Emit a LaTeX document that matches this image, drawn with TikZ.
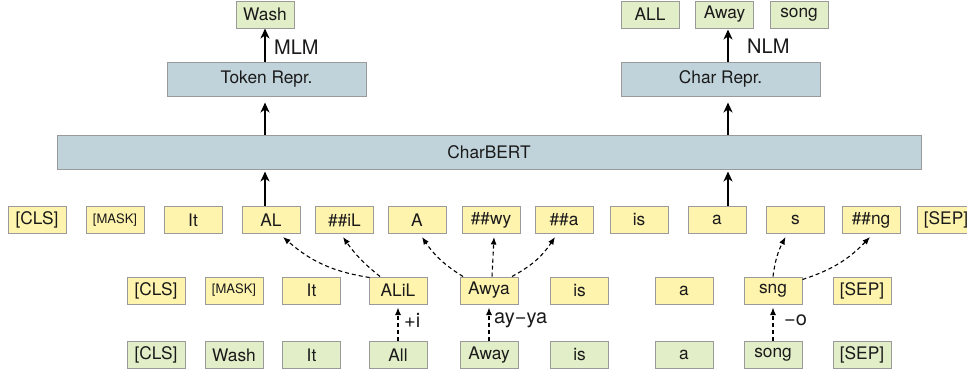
\documentclass[tikz,border=0pt]{standalone}
\usepackage{fontspec}
\setmainfont{TeX Gyre Heros}
\usetikzlibrary{arrows.meta}
\definecolor{yel}{HTML}{FFF4AE}
\definecolor{grn}{HTML}{E2EEC8}
\definecolor{blu}{HTML}{C1D3DA}
\definecolor{bord}{HTML}{9A9A9A}
\definecolor{txt}{HTML}{1A1A1A}
\tikzset{
  tok/.style={draw=bord, line width=1pt, minimum width=58pt, minimum height=27pt, inner sep=0pt, text=txt, font=\fontsize{17.3}{19}\selectfont},
  ytok/.style={tok, fill=yel},
  gtok/.style={tok, fill=grn},
  btok/.style={tok, fill=blu, minimum height=34pt},
  smallt/.style={font=\fontsize{13}{14}\selectfont},
  lab/.style={text=txt, font=\fontsize{20}{22}\selectfont, inner sep=0pt},
  solidarr/.style={-{Stealth[length=10pt,width=9pt,inset=3pt]}, line width=2pt, black},
  dasharr/.style={-{Latex[length=7.5pt,width=6pt]}, line width=1.1pt, black, dash pattern=on 4pt off 3pt}
}
\begin{document}
\begin{tikzpicture}[x=1pt,y=1pt]
\useasboundingbox (0,0) rectangle (967,-376);
% top row
\node[gtok] (wash) at (265,-14.5) {Wash};
\node[gtok] (ALL) at (650,-14.5) {ALL};
\node[gtok] (away0) at (724.5,-14.5) {Away};
\node[gtok] (song0) at (799,-14.5) {song};
% repr
\node[btok, minimum width=199pt] (tokr) at (266.5,-79) {Token Repr.};
\node[btok, minimum width=199pt] (charr) at (720.5,-79) {Char Repr.};
\node[btok, minimum width=864pt] (bert) at (489,-152) {CharBERT};
% row 1
\node[ytok] (r1cls) at (37,-220) {[CLS]};
\node[ytok, smallt] (r1mask) at (115,-220) {[MASK]};
\node[ytok] (r1it) at (193,-220) {It};
\node[ytok] (r1AL) at (271,-220) {AL};
\node[ytok] (r1iL) at (344.5,-220) {\#\#iL};
\node[ytok] (r1A) at (417,-220) {A};
\node[ytok] (r1wy) at (491,-220) {\#\#wy};
\node[ytok] (r1a2) at (564,-220) {\#\#a};
\node[ytok] (r1is) at (639,-220) {is};
\node[ytok] (r1a) at (717,-220) {a};
\node[ytok] (r1s) at (795.5,-220) {s};
\node[ytok] (r1ng) at (871,-220) {\#\#ng};
\node[ytok] (r1sep) at (946,-220) {[SEP]};
% row 2
\node[ytok] (r2cls) at (156,-290.5) {[CLS]};
\node[ytok, smallt] (r2mask) at (234,-290.5) {[MASK]};
\node[ytok] (r2it) at (311.5,-290.5) {It};
\node[ytok] (r2alil) at (398,-290.5) {ALiL};
\node[ytok] (r2awya) at (489,-290.5) {Awya};
\node[ytok] (r2is) at (579.5,-290.5) {is};
\node[ytok] (r2a) at (684,-290.5) {a};
\node[ytok] (r2sng) at (773,-290.5) {sng};
\node[ytok] (r2sep) at (862,-290.5) {[SEP]};
% row 3
\node[gtok] (r3cls) at (156,-355) {[CLS]};
\node[gtok] (r3wash) at (234,-355) {Wash};
\node[gtok] (r3it) at (311.5,-355) {It};
\node[gtok] (r3all) at (398,-355) {All};
\node[gtok] (r3away) at (489,-355) {Away};
\node[gtok] (r3is) at (579.5,-355) {is};
\node[gtok] (r3a) at (684,-355) {a};
\node[gtok] (r3song) at (773,-355) {song};
\node[gtok] (r3sep) at (862,-355) {[SEP]};
% x positions of the solid arrows
\coordinate (xl) at (265,0);
\coordinate (xr) at (728,0);
% solid arrows
\draw[solidarr] (tokr.north -| xl) -- (wash.south -| xl);
\draw[solidarr] (charr.north -| xr) -- ([yshift=-1pt]away0.south -| xr);
\draw[solidarr] (bert.north -| xl) -- ([yshift=-6pt]tokr.south -| xl);
\draw[solidarr] (bert.north -| xr) -- ([yshift=-6pt]charr.south -| xr);
\draw[solidarr] (r1AL.north -| xl) -- ([yshift=-2pt]bert.south -| xl);
\draw[solidarr] (r1a.north -| xr) -- ([yshift=-2pt]bert.south -| xr);
\node[lab, anchor=west] (mlm) at (274,-47) {MLM};
\node[lab, anchor=west] (nlm) at (747,-46) {NLM};
% dashed vertical arrows
\draw[dasharr] (r3all.north) -- ([yshift=-3pt]r2alil.south);
\draw[dasharr] (r3away.north) -- ([yshift=-3pt]r2awya.south);
\draw[dasharr] (r3song.north) -- ([yshift=-3pt]r2sng.south);
\node[lab, anchor=west] (plusi) at (404,-320) {+i};
\node[lab, anchor=west] (ayya) at (494,-320) {ay−ya};
\node[lab, anchor=west] (mino) at (784,-320) {−o};
% dashed curved arrows
\draw[dasharr] ([xshift=1pt,yshift=-1pt]r2alil.north west) to[bend left=16] ([xshift=12pt,yshift=-3pt]r1AL.south);
\draw[dasharr] ([xshift=-18pt]r2alil.north) to[bend left=8] ([xshift=-1.5pt,yshift=-3pt]r1iL.south);
\draw[dasharr] ([xshift=-26pt]r2awya.north) to[bend left=12] ([xshift=5pt,yshift=-3pt]r1A.south);
\draw[dasharr] ([xshift=3pt]r2awya.north) -- ([xshift=3pt,yshift=-3pt]r1wy.south);
\draw[dasharr] ([xshift=23pt]r2awya.north) to[bend right=14] ([xshift=-9pt,yshift=-3pt]r1a2.south);
\draw[dasharr] (r2sng.north) to[bend left=10] ([xshift=-10pt,yshift=-3pt]r1s.south);
\draw[dasharr] ([yshift=-3pt]r2sng.north east) to[bend right=14] ([xshift=-1pt,yshift=-3pt]r1ng.south);
\end{tikzpicture}
\end{document}
